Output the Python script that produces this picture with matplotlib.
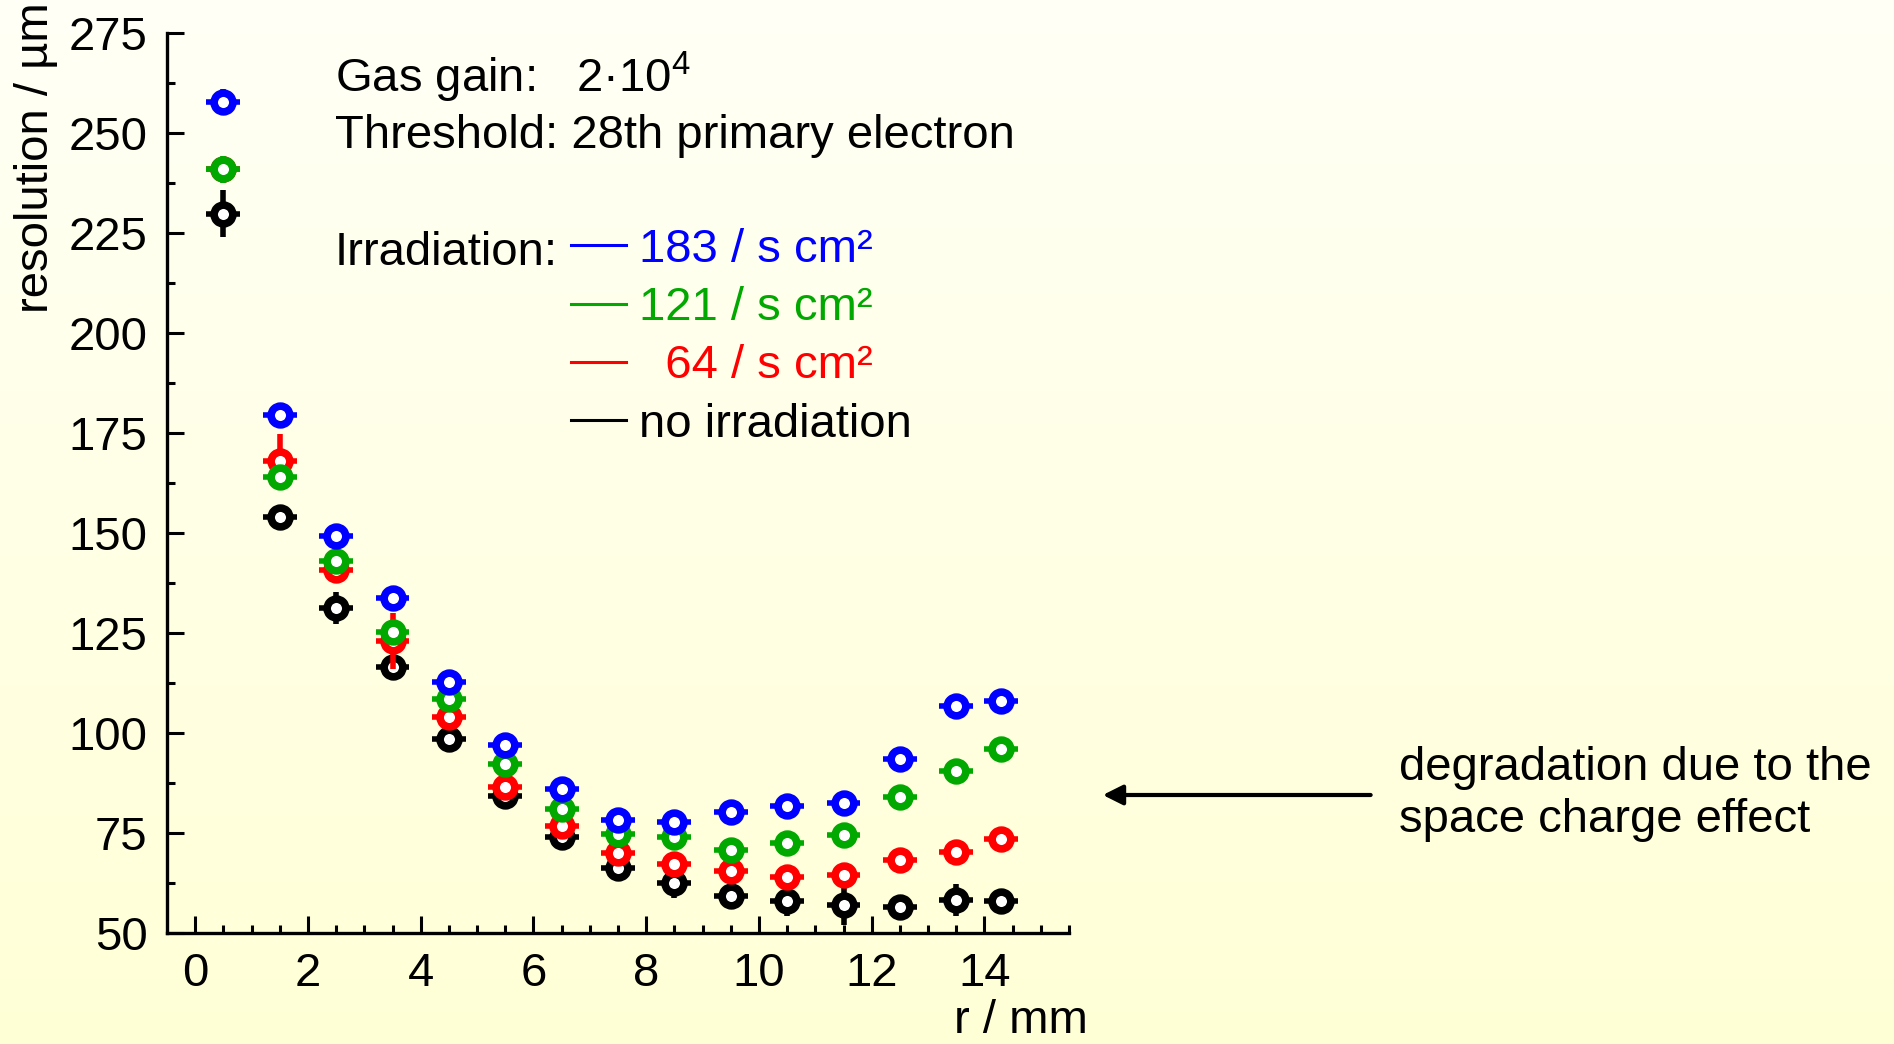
import numpy as np
import matplotlib
matplotlib.use("Agg")
import matplotlib.pyplot as plt
from matplotlib.lines import Line2D

plt.rcParams['font.family'] = ['Liberation Sans', 'DejaVu Sans']
plt.rcParams['mathtext.fontset'] = 'custom'
plt.rcParams['mathtext.rm'] = 'Liberation Sans'

# radial bins (mm)
r = [0.5, 1.5, 2.5, 3.5, 4.5, 5.5, 6.5, 7.5, 8.5, 9.5, 10.5, 11.5, 12.5, 13.5, 14.3]
r_err = 0.3

# resolution (um) per irradiation rate
res_183 = [257.8, 179.5, 149.3, 133.8, 112.8, 96.9, 85.9, 78.3, 77.8, 80.3, 81.8, 82.4, 93.5, 106.8, 108.0]
err_183 = [3.3, 2.0, 2.0, 2.0, 2.0, 2.0, 2.0, 2.0, 2.0, 2.0, 2.0, 2.0, 2.0, 2.0, 2.0]
res_121 = [240.9, 163.9, 143.1, 125.2, 108.6, 92.3, 80.9, 74.7, 73.9, 70.8, 72.4, 74.5, 84.1, 90.5, 95.9]
err_121 = [3.3, 2.0, 2.0, 2.0, 2.0, 2.0, 2.0, 2.0, 2.0, 2.0, 2.0, 2.0, 2.0, 2.0, 2.0]
res_64 = [241.0, 168.0, 140.8, 123.0, 104.1, 86.6, 76.8, 70.1, 67.3, 65.5, 64.1, 64.5, 68.3, 70.2, 73.5]
err_64 = [2.5, 6.7, 2.0, 7.0, 2.0, 2.0, 2.0, 2.0, 2.0, 2.0, 2.0, 2.0, 2.0, 2.0, 2.0]
res_0 = [229.8, 154.1, 131.2, 116.4, 98.4, 84.2, 74.1, 66.3, 62.6, 59.3, 57.9, 57.0, 56.4, 58.3, 58.1]
err_0 = [5.9, 2.0, 4.0, 2.0, 2.0, 2.0, 2.0, 2.5, 3.9, 3.0, 3.6, 4.9, 3.0, 4.0, 2.0]

series = [
    (res_0, err_0, 'black', 'no irradiation'),
    (res_64, err_64, '#ff0000', '  64 / s cm²'),
    (res_121, err_121, '#00a800', '121 / s cm²'),
    (res_183, err_183, '#0000ff', '183 / s cm²'),
]

FS = 34
W, H = 1894, 1044
fig = plt.figure(figsize=(W / 100, H / 100), dpi=100)

# background gradient
bg = fig.add_axes([0, 0, 1, 1], zorder=-10)
grad = np.linspace(0, 1, 256).reshape(-1, 1)
top = np.array([255, 255, 246]) / 255
bot = np.array([255, 255, 214]) / 255
img = top + (bot - top) * grad[:, :, None]
bg.imshow(img, aspect='auto', extent=[0, 1, 0, 1])
bg.axis('off')

ax = fig.add_axes([167 / W, 1 - 933 / H, (1069 - 167) / W, (933 - 33) / H])
ax.patch.set_alpha(0)

for i, (y, e, c, lab) in enumerate(series):
    ax.errorbar(r, y, xerr=r_err, yerr=e, fmt='o', color=c, ms=13.5, mew=5.5,
                mfc='white', mec=c, elinewidth=4, capsize=0, zorder=3 + i)
    ax.plot(r, y, 'o', ms=3.5, mfc='white', mec=c, mew=1.2, zorder=3 + i)

ax.set_xlim(-0.5, 15.5)
ax.set_ylim(50, 275)
ax.set_xticks(np.arange(0, 15, 2))
ax.set_xticks(np.arange(0, 15.6, 0.5), minor=True)
ax.set_yticks(np.arange(50, 276, 25))
ax.set_yticks(np.arange(50, 276, 12.5), minor=True)
for s in ['top', 'right']:
    ax.spines[s].set_visible(False)
for s in ['left', 'bottom']:
    ax.spines[s].set_linewidth(2.4)
ax.tick_params(which='major', direction='in', length=12, width=2.2, labelsize=FS)
ax.tick_params(which='minor', direction='in', length=6, width=2.2)
ax.tick_params(axis='y', pad=14)
ax.tick_params(axis='x', pad=14)

fig.text(36 / W, 1 - 2 / H, 'resolution / µm', rotation=90, ha='center', va='top', fontsize=FS)
fig.text(1088 / W, 1 - 1021 / H, 'r / mm', ha='right', va='center', fontsize=FS)

ax.text(2.48, 264.0, 'Gas gain:   2·10$^{4}$', fontsize=FS, va='center')
ax.text(2.48, 249.3, 'Threshold: 28th primary electron', fontsize=FS, va='center')
ax.text(2.48, 220.1, 'Irradiation:', fontsize=FS, va='center')

handles = [Line2D([], [], color=c, lw=2.2) for _, _, c, _ in series[::-1]]
labels = [lab for _, _, _, lab in series[::-1]]
leg = fig.legend(handles, labels, loc='upper left', bbox_to_anchor=(571 / W, 1 - 228 / H),
                 frameon=False, fontsize=FS, handlelength=1.17, handletextpad=0.26,
                 labelspacing=0.3, borderpad=0, borderaxespad=0, labelcolor='linecolor')

ax.annotate('', xy=(16.05, 84.5), xytext=(20.9, 84.5), annotation_clip=False,
            arrowprops=dict(arrowstyle='-|>', color='black', lw=3, mutation_scale=30))
fig.text(1399 / W, 1 - 794 / H, 'degradation due to the\nspace charge effect',
         fontsize=FS, va='center', ha='left', linespacing=1.25)

fig.savefig('out.png', dpi=100)
